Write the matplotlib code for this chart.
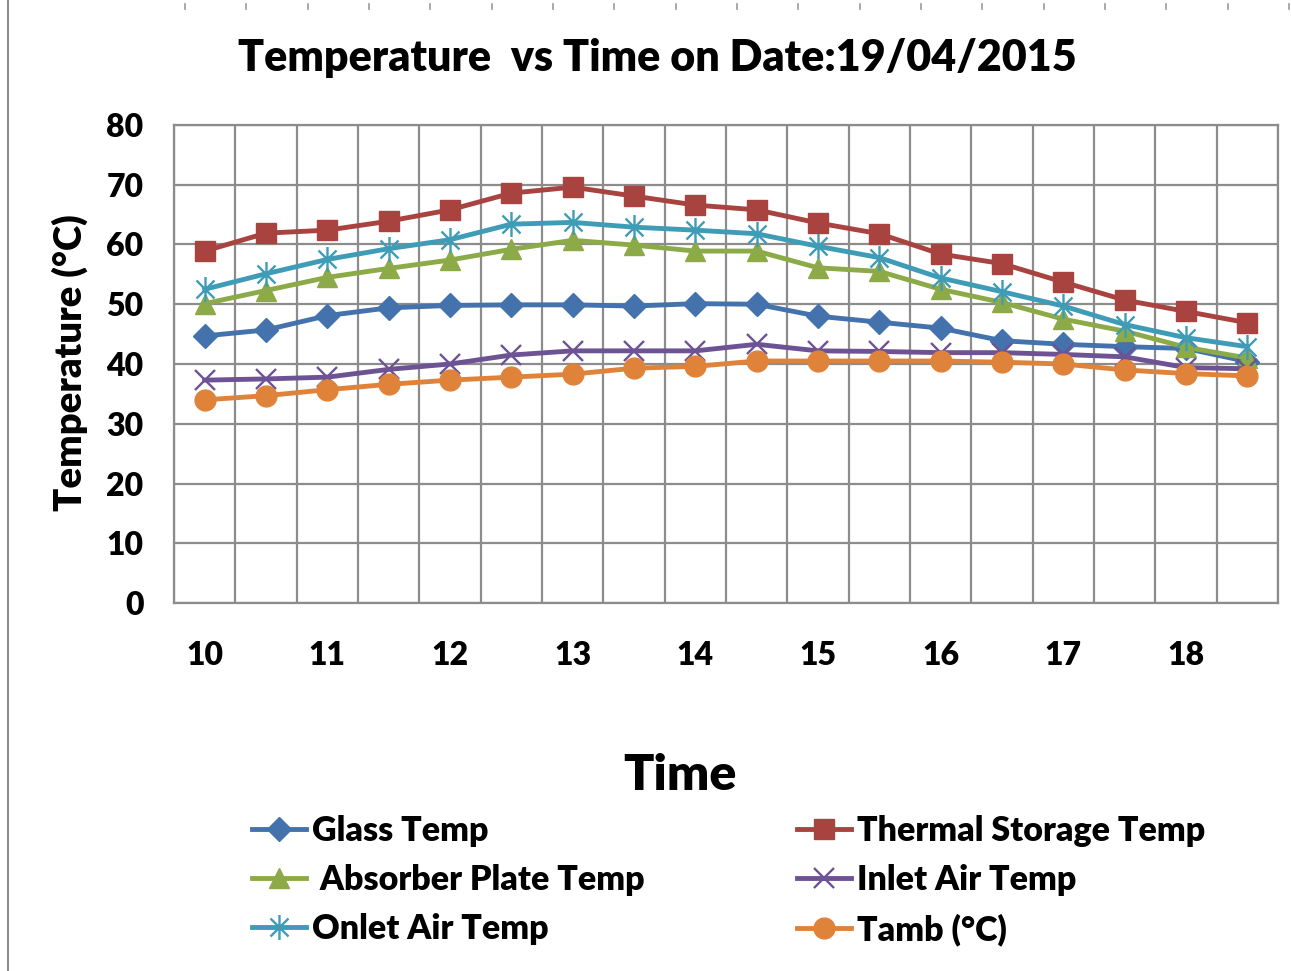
import numpy as np
import matplotlib
matplotlib.use('Agg')
import matplotlib.pyplot as plt
from matplotlib.path import Path
from matplotlib.lines import Line2D
import matplotlib.transforms as mtransforms

plt.rcParams['font.family'] = ['Lato', 'DejaVu Sans']
plt.rcParams['font.weight'] = 'heavy'

# data
time = [10, 10.5, 11, 11.5, 12, 12.5, 13, 13.5, 14, 14.5, 15, 15.5, 16, 16.5, 17, 17.5, 18, 18.5]
glass = [44.7, 45.7, 48.1, 49.4, 49.8, 49.9, 49.9, 49.7, 50.1, 50.0, 48.0, 47.0, 46.0, 43.9, 43.3, 42.9, 42.6, 40.4]
thermal = [58.9, 61.9, 62.4, 63.9, 65.8, 68.6, 69.6, 68.1, 66.6, 65.8, 63.6, 61.8, 58.4, 56.8, 53.7, 50.7, 48.8, 46.9]
absorber = [50.1, 52.3, 54.5, 56.0, 57.4, 59.2, 60.7, 59.9, 58.9, 58.9, 56.1, 55.5, 52.5, 50.3, 47.5, 45.5, 42.8, 41.0]
inlet = [37.3, 37.5, 37.8, 39.1, 40.0, 41.5, 42.2, 42.2, 42.2, 43.3, 42.2, 42.1, 41.9, 41.9, 41.6, 41.2, 39.4, 39.2]
onlet = [52.5, 55.1, 57.5, 59.3, 60.8, 63.4, 63.7, 62.9, 62.4, 61.8, 59.7, 57.8, 54.4, 52.1, 49.7, 46.6, 44.4, 42.9]
tamb = [34.0, 34.7, 35.7, 36.6, 37.3, 37.8, 38.3, 39.3, 39.6, 40.5, 40.5, 40.5, 40.5, 40.3, 40.0, 39.0, 38.4, 38.0]
hour_ticks = [10, 11, 12, 13, 14, 15, 16, 17, 18]

# excel style "star" marker: vertical bar + x
star = Path([(0, -1), (0, 1), (-0.72, -0.72), (0.72, 0.72), (-0.72, 0.72), (0.72, -0.72)],
            [Path.MOVETO, Path.LINETO, Path.MOVETO, Path.LINETO, Path.MOVETO, Path.LINETO])

W, H = 1291, 971
fig = plt.figure(figsize=(W / 100, H / 100), dpi=100)
ax = fig.add_axes([174 / W, 1 - 603 / H, (1278 - 174) / W, (603 - 125) / H])

lw = 3.5
h_glass, = ax.plot(time, glass, color='#4372AC', lw=lw, marker='D', ms=12, label='Glass Temp')
h_thermal, = ax.plot(time, thermal, color='#A8433F', lw=lw, marker='s', ms=14, label='Thermal Storage Temp')
h_abs, = ax.plot(time, absorber, color='#8CAA48', lw=lw, marker='^', ms=15, label=' Absorber Plate Temp')
h_inlet, = ax.plot(time, inlet, color='#6E5394', lw=lw, marker='x', ms=15, mew=1.7, label='Inlet Air Temp')
h_onlet, = ax.plot(time, onlet, color='#3F9CB6', lw=lw, marker=star, ms=18, mew=1.7, mfc='none',
                   label='Onlet Air Temp')
h_tamb, = ax.plot(time, tamb, color='#E0833A', lw=lw, marker='o', ms=15, label='Tamb (°C)')

ax.set_xlim(9.75, 18.75)
ax.set_ylim(0, 80)
ax.set_yticks(np.arange(0, 81, 10))
ax.set_xticks(hour_ticks)
ax.set_xticklabels([str(h) for h in hour_ticks])
ax.set_xticks(np.arange(9.75, 18.8, 0.5), minor=True)
ax.tick_params(axis='both', which='both', length=0, labelsize=23)
ax.tick_params(axis='y', pad=22)
ax.tick_params(axis='x', pad=27)
for lab in ax.get_xticklabels() + ax.get_yticklabels():
    lab.set_fontweight('heavy')

ax.grid(False)
ax.grid(True, which='minor', axis='x', color='#8C8C8C', lw=1.6)
ax.grid(True, which='major', axis='y', color='#8C8C8C', lw=1.6)
for s in ax.spines.values():
    s.set_color('#8C8C8C')
    s.set_linewidth(1.6)

fig.text(657 / W, 1 - 58 / H, 'Temperature  vs Time on Date:19/04/2015', ha='center', va='center',
         fontsize=31, fontweight='heavy')
fig.text(70 / W, 1 - 363 / H, 'Temperature (°C)', rotation=90, ha='center', va='center',
         fontsize=27.5, fontweight='heavy')
fig.text(680 / W, 1 - 775 / H, 'Time', ha='center', va='center', fontsize=36, fontweight='heavy')

leg_kw = dict(frameon=False, handlelength=1.6, handletextpad=0.15, labelspacing=0.5,
              numpoints=1, borderpad=0, borderaxespad=0, loc='upper left',
              prop={'weight': 'heavy', 'size': 24.5})
fig.legend(handles=[h_glass, h_abs, h_onlet], bbox_to_anchor=(252 / W, 1 - 815 / H), **leg_kw)
fig.legend(handles=[h_thermal, h_inlet, h_tamb], bbox_to_anchor=(797 / W, 1 - 815 / H), **leg_kw)

# page border and ruler marks of the original screenshot
fig.add_artist(Line2D([8 / W, 8 / W], [0, 1], transform=fig.transFigure, color='#8C8C8C', lw=1.5))
trans = mtransforms.blended_transform_factory(ax.transData, fig.transFigure)
for gx in np.arange(9.75, 18.8, 0.5):
    fig.add_artist(Line2D([gx + 0.09, gx + 0.09], [1 - 4 / H, 1 - 9 / H], transform=trans,
                          color='#9A9A9A', lw=1.2))

fig.savefig('out.png', dpi=100, facecolor='white')
